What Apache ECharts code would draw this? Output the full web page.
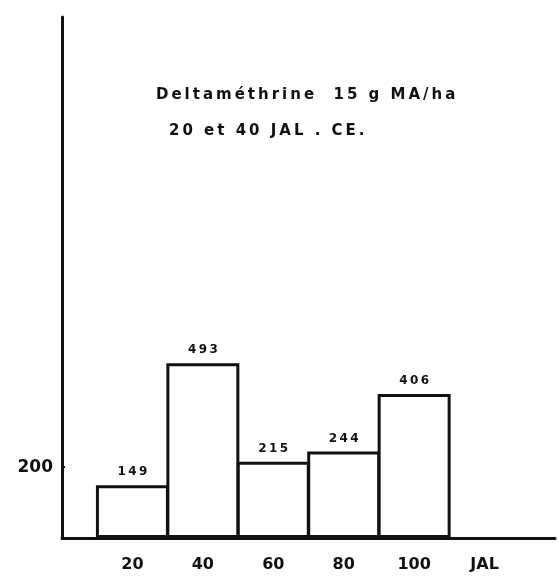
<!DOCTYPE html>
<html>
<head>
<meta charset="utf-8">
<script src="https://cdn.jsdelivr.net/npm/echarts@6/dist/echarts.min.js"></script>
<style>
  html, body { margin: 0; padding: 0; background: #fff; }
  #chart-ctn { width: 558px; height: 580px; }
</style>
</head>
<body>
<div id="chart-ctn"></div>
<script>
// days after emergence (JAL) and counts
var jal = [20, 40, 60, 80, 100];
var counts = [149, 493, 215, 244, 406];
var xTickValues = [20, 40, 60, 80, 100, 120];
var xTickNames = ['20', '40', '60', '80', '100', 'JAL'];
var yTickValues = [200];
var titleLines = ['Deltaméthrine  15 g MA/ha', '20 et 40 JAL . CE.'];

var font = 'DejaVu Sans';

// the scan uses wide letter tracking
function spaced(s) {
  return String(s).split('').join('\u2009');
}

var myChart = echarts.init(document.getElementById('chart-ctn'));

var option = {
  backgroundColor: '#fff',
  animation: false,
  title: [
    {
      text: spaced(titleLines[0]),
      left: 151, top: 83,
      textStyle: { fontFamily: font, fontWeight: 'bold', fontSize: 15, color: '#111' }
    },
    {
      text: spaced(titleLines[1]),
      left: 164, top: 119,
      textStyle: { fontFamily: font, fontWeight: 'bold', fontSize: 15, color: '#111' }
    }
  ],
  grid: { left: 62, right: 3, top: 17, bottom: 42, containLabel: false },
  xAxis: {
    type: 'value',
    min: 0,
    max: 140,
    splitLine: { show: false },
    axisLine: { lineStyle: { color: '#111', width: 3 } },
    axisTick: { show: false },
    axisLabel: {
      customValues: xTickValues,
      formatter: function (v) {
        var i = xTickValues.indexOf(v);
        return i >= 0 ? xTickNames[i] : '';
      },
      margin: 19,
      fontFamily: font, fontWeight: 'bold', fontSize: 16, color: '#111'
    }
  },
  yAxis: {
    type: 'value',
    min: 0,
    max: 1470,
    splitLine: { show: false },
    axisLine: { show: true, lineStyle: { color: '#111', width: 3 } },
    axisTick: { show: true, customValues: yTickValues, inside: true, length: 3, lineStyle: { color: '#111', width: 2 } },
    axisLabel: {
      customValues: yTickValues,
      margin: 9,
      fontFamily: font, fontWeight: 'bold', fontSize: 17, color: '#111'
    }
  },
  series: [
    {
      type: 'bar',
      data: jal.map(function (x, i) { return [x, counts[i]]; }),
      barWidth: 73,
      itemStyle: { color: '#fff', borderColor: '#111', borderWidth: 3 },
      label: {
        show: true,
        position: 'top',
        distance: 7,
        formatter: function (p) { return spaced(p.value[1]); },
        fontFamily: font, fontWeight: 'bold', fontSize: 12, color: '#111'
      }
    }
  ]
};

myChart.setOption(option);
</script>
</body>
</html>
